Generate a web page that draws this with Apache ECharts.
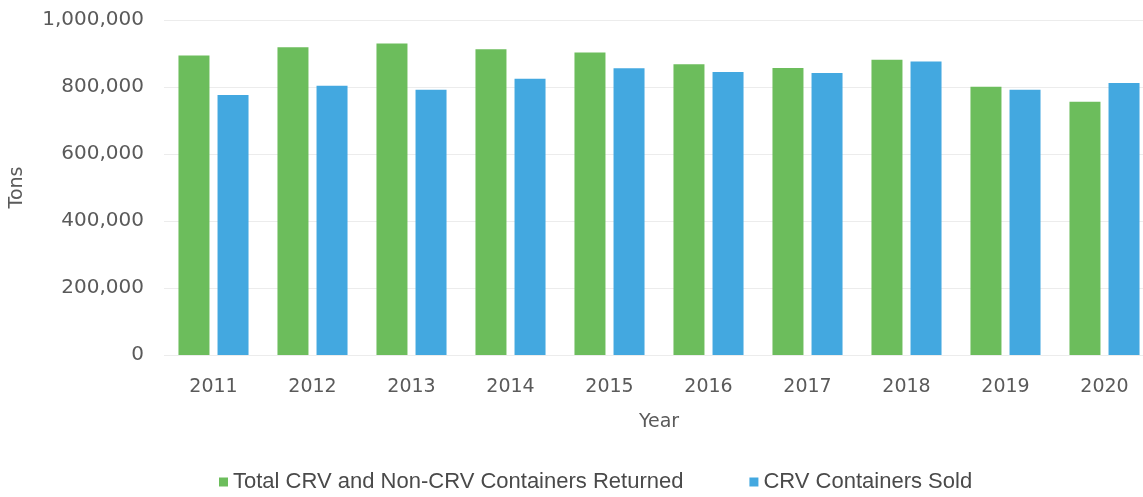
<!DOCTYPE html>
<html>
<head>
<meta charset="utf-8">
<script src="https://cdn.jsdelivr.net/npm/echarts@6/dist/echarts.min.js"></script>
<style>
  html, body { margin: 0; padding: 0; background: #fff; overflow: hidden; }
  /* the source chart runs slightly past the right edge of the scan */
  #chart { width: 1162px; height: 497px; }
</style>
</head>
<body>
<div id="chart"></div>
<script>
// data (tons)
const years = ['2011', '2012', '2013', '2014', '2015', '2016', '2017', '2018', '2019', '2020'];
const returned = [894000, 919000, 930000, 913000, 903000, 868000, 857000, 881000, 801000, 756000];
const sold = [776000, 804000, 792000, 825000, 856000, 845000, 842000, 876000, 792000, 812000];
const seriesNames = ['Total CRV and Non-CRV Containers Returned', 'CRV Containers Sold'];

const chart = echarts.init(document.getElementById('chart'));
const labelFont = 'DejaVu Sans';

chart.setOption({
  animation: false,
  grid: { left: 163, width: 991, top: 20, bottom: 142, containLabel: false },
  legend: {
    left: 214,
    bottom: -1,
    itemWidth: 9,
    itemHeight: 9,
    itemGap: 66,
    icon: 'rect',
    textStyle: { fontFamily: 'Liberation Sans', fontSize: 22, color: '#4a4a4a' },
    data: seriesNames
  },
  xAxis: {
    type: 'category',
    data: years,
    name: 'Year',
    nameLocation: 'middle',
    nameGap: 58,
    nameTextStyle: { fontFamily: labelFont, fontSize: 19, color: '#5a5a5a' },
    axisLine: { show: false },
    axisTick: { show: false },
    axisLabel: { fontFamily: labelFont, fontSize: 19, color: '#5a5a5a', margin: 23 }
  },
  yAxis: {
    type: 'value',
    min: 0,
    max: 1000000,
    interval: 200000,
    name: 'Tons',
    nameLocation: 'middle',
    nameGap: 137,
    nameTextStyle: { fontFamily: labelFont, fontSize: 19, color: '#5a5a5a' },
    axisLine: { show: false },
    axisTick: { show: false },
    axisLabel: {
      fontFamily: labelFont, fontSize: 20, color: '#5a5a5a', margin: 20,
      formatter: v => v.toLocaleString('en-US')
    },
    splitLine: { lineStyle: { color: '#ececec', width: 1 } }
  },
  series: [
    {
      name: seriesNames[0],
      type: 'bar',
      data: returned,
      barWidth: 31,
      barGap: '26%',
      itemStyle: { color: '#6cbd5c' }
    },
    {
      name: seriesNames[1],
      type: 'bar',
      data: sold,
      barWidth: 31,
      itemStyle: { color: '#43a8e0' }
    }
  ]
});
</script>
</body>
</html>
